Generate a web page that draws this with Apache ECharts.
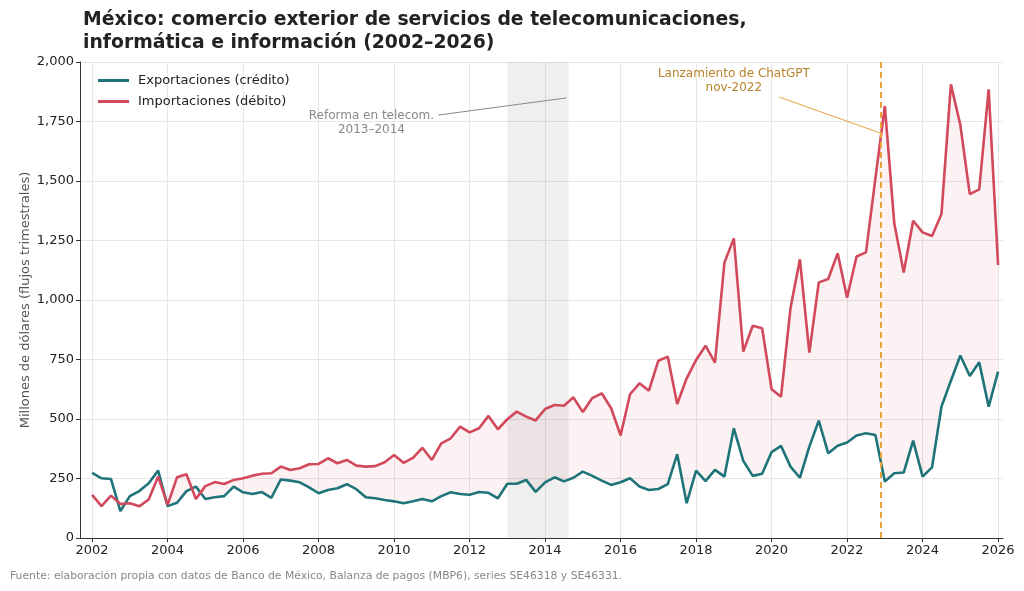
<!DOCTYPE html>
<html>
<head>
<meta charset="utf-8">
<script src="https://cdn.jsdelivr.net/npm/echarts@6/dist/echarts.min.js"></script>
<style>
  html, body { margin: 0; padding: 0; background: #fff; }
  #chart { width: 1024px; height: 591px; }
</style>
</head>
<body>
<div id="chart"></div>
<script>
// trimestral, 2002T1 .. 2026T1 (millones de dólares)
const anioInicio = 2002;
const exportaciones = [
  274, 251, 248, 113, 176, 197, 230, 283,
  134, 148, 197, 216, 164, 171, 176, 216,
  192, 185, 193, 169, 246, 241, 234, 213,
  188, 202, 209, 226, 205, 171, 167, 160,
  154, 146, 154, 164, 154, 176, 192, 185,
  182, 193, 190, 167, 228, 228, 244, 194,
  234, 255, 238, 253, 279, 261, 241, 223,
  234, 251, 216, 202, 206, 226, 352, 146,
  283, 239, 286, 258, 461, 324, 261, 270,
  361, 387, 300, 253, 384, 493, 356, 388,
  401, 431, 440, 433, 237, 272, 275, 409,
  258, 297, 552, 661, 767, 681, 738, 552,
  699
];
const importaciones = [
  181, 134, 178, 143, 146, 133, 162, 258,
  139, 255, 268, 164, 218, 235, 227, 244,
  251, 262, 270, 272, 300, 286, 293, 310,
  311, 335, 314, 328, 304, 300, 302, 318,
  349, 316, 337, 379, 328, 398, 419, 468,
  444, 461, 513, 457, 499, 531, 510, 494,
  542, 559, 556, 591, 529, 588, 608, 545,
  431, 604, 650, 619, 745, 762, 563, 671,
  748, 808, 737, 1157, 1259, 783, 892, 881,
  625, 594, 965, 1171, 779, 1074, 1088, 1196,
  1010, 1183, 1200, 1511, 1815, 1322, 1116, 1333,
  1284, 1269, 1361, 1906, 1735, 1445, 1465, 1885,
  1147
];
const aniosEje = [2002, 2004, 2006, 2008, 2010, 2012, 2014, 2016, 2018, 2020, 2022, 2024, 2026];
const reforma = [2013.0, 2014.62];
const chatgpt = 2022.9;

const TEAL = '#1f7479';
const RED = '#d1495b';
const ORANGE = '#e8a33c';

const fechas = exportaciones.map((_, i) => anioInicio + i * 0.25);
const serieExp = fechas.map((x, i) => [x, exportaciones[i]]);
const serieImp = fechas.map((x, i) => [x, importaciones[i]]);
const serieBrecha = fechas.map((x, i) => [x, exportaciones[i], importaciones[i]]);

// relleno entre curvas donde importaciones > exportaciones
function renderBrecha(params, api) {
  if (params.dataIndex !== 0) return null;
  const arriba = [], abajo = [];
  serieBrecha.forEach(d => {
    arriba.push(api.coord([d[0], Math.max(d[1], d[2])]));
    abajo.push(api.coord([d[0], d[1]]));
  });
  return {
    type: 'polygon',
    shape: { points: arriba.concat(abajo.reverse()) },
    style: { fill: 'rgba(209,73,91,0.07)' },
    silent: true
  };
}

const chart = echarts.init(document.getElementById('chart'));
chart.setOption({
  animation: false,
  backgroundColor: '#fff',
  textStyle: { fontFamily: 'DejaVu Sans' },
  title: [
    {
      text: 'México: comercio exterior de servicios de telecomunicaciones,\ninformática e información (2002–2026)',
      left: 78, top: 4,
      textStyle: { fontSize: 18.8, fontWeight: 'bold', color: '#222', lineHeight: 23, fontFamily: 'DejaVu Sans' }
    },
    {
      text: 'Fuente: elaboración propia con datos de Banco de México, Balanza de pagos (MBP6), series SE46318 y SE46331.',
      left: 5, top: 566,
      textStyle: { fontSize: 10.8, fontWeight: 'normal', color: '#888', fontFamily: 'DejaVu Sans' }
    }
  ],
  legend: {
    data: [
      { name: 'Exportaciones (crédito)', icon: 'rect' },
      { name: 'Importaciones (débito)', icon: 'rect' }
    ],
    orient: 'vertical',
    left: 93, top: 69,
    itemWidth: 31, itemHeight: 3, itemGap: 8,
    textStyle: { fontSize: 13, color: '#222', lineHeight: 13, padding: [0, 0, 0, 4] }
  },
  grid: { left: 80, right: 21, top: 62, bottom: 53 },
  xAxis: {
    type: 'value',
    min: 2001.68, max: 2026.13,
    axisLine: { lineStyle: { color: '#333' } },
    axisTick: { customValues: aniosEje, length: 4, lineStyle: { color: '#333' } },
    axisLabel: { customValues: aniosEje, color: '#222', fontSize: 13, margin: 6, formatter: v => String(v) },
    splitLine: { show: true, lineStyle: { color: '#e6e6e6' } }
  },
  yAxis: {
    type: 'value',
    min: 0, max: 2000, interval: 250,
    name: 'Millones de dólares (flujos trimestrales)',
    nameLocation: 'middle', nameGap: 48, nameMoveOverlap: false,
    nameTextStyle: { fontSize: 13, color: '#555' },
    axisLine: { show: true, lineStyle: { color: '#333' } },
    axisTick: { show: true, length: 4, lineStyle: { color: '#333' } },
    axisLabel: { color: '#222', fontSize: 13, margin: 6, formatter: v => v.toLocaleString('en-US') },
    splitLine: { lineStyle: { color: '#e6e6e6' } }
  },
  series: [
    {
      name: 'brecha', type: 'custom', data: serieBrecha,
      encode: { x: 0, y: [1, 2] },
      renderItem: renderBrecha, silent: true, z: 1,
      markArea: {
        silent: true,
        itemStyle: { color: 'rgba(120,120,120,0.12)' },
        data: [[{ xAxis: reforma[0] }, { xAxis: reforma[1] }]]
      }
    },
    {
      name: 'Exportaciones (crédito)', type: 'line', data: serieExp,
      symbol: 'none', color: TEAL, lineStyle: { width: 2.6, color: TEAL }, z: 3
    },
    {
      name: 'Importaciones (débito)', type: 'line', data: serieImp,
      symbol: 'none', color: RED, lineStyle: { width: 2.6, color: RED }, z: 3,
      markLine: {
        silent: true, symbol: 'none', label: { show: false },
        data: [
          { xAxis: chatgpt, lineStyle: { color: ORANGE, width: 2, type: [6, 4] } },
          [{ coord: [2011.17, 1777], lineStyle: { color: '#888', width: 1, type: 'solid' } }, { coord: [2014.56, 1849] }],
          [{ coord: [2020.2, 1853], lineStyle: { color: ORANGE, width: 1, type: 'solid' } }, { coord: [2022.87, 1702] }]
        ]
      }
    }
  ]
});

// textos de anotación ubicados en coordenadas de datos
const p1 = chart.convertToPixel({ gridIndex: 0 }, [2009.4, 1745]);
const p2 = chart.convertToPixel({ gridIndex: 0 }, [2019.0, 1922]);
chart.setOption({
  graphic: [
    {
      type: 'text', x: p1[0], y: p1[1],
      style: {
        text: 'Reforma en telecom.\n2013–2014', fill: '#888', fontSize: 12, lineHeight: 14,
        fontFamily: 'DejaVu Sans', align: 'center', verticalAlign: 'middle'
      }
    },
    {
      type: 'text', x: p2[0], y: p2[1],
      style: {
        text: 'Lanzamiento de ChatGPT\nnov-2022', fill: '#b8822a', fontSize: 12, lineHeight: 14,
        fontFamily: 'DejaVu Sans', align: 'center', verticalAlign: 'middle'
      }
    }
  ]
});
</script>
</body>
</html>
